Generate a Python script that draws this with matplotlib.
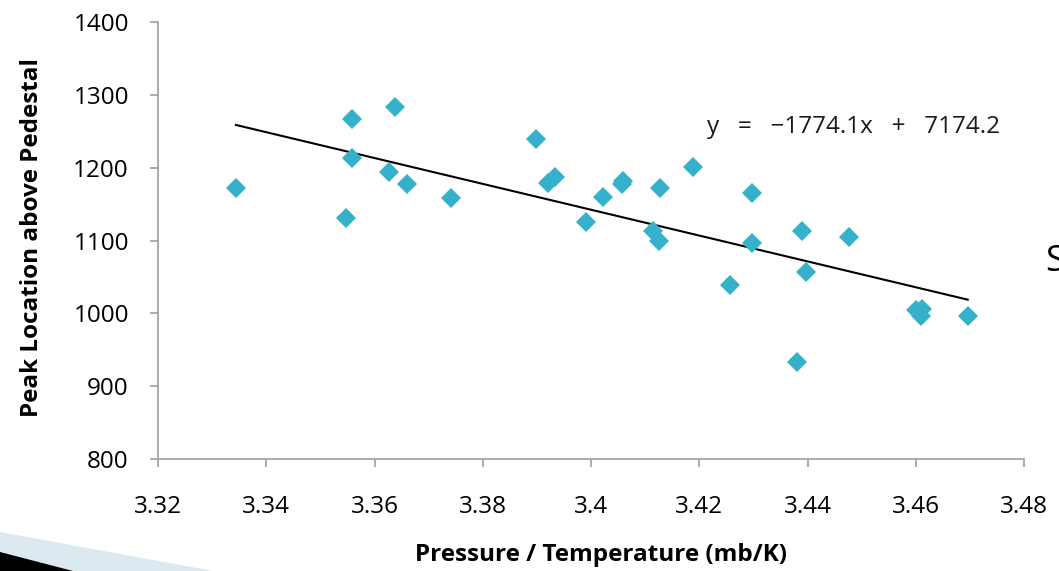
import matplotlib
matplotlib.use("Agg")
import matplotlib.pyplot as plt
from matplotlib.patches import Polygon
import numpy as np

plt.rcParams['font.family'] = ['Open Sans', 'DejaVu Sans']

# Data
pressure_temp = [3.3344, 3.3547, 3.3558, 3.3558, 3.3627, 3.3638, 3.3660, 3.3741,
                 3.3898, 3.3920, 3.3933, 3.3990, 3.4023, 3.4057, 3.4059, 3.4114,
                 3.4125, 3.4127, 3.4188, 3.4256, 3.4297, 3.4297, 3.4380, 3.4389,
                 3.4398, 3.4476, 3.4600, 3.4612, 3.4609, 3.4696]
peak_location = [1172, 1131, 1267, 1213, 1194, 1283, 1178, 1158,
                 1239, 1179, 1187, 1125, 1160, 1177, 1182, 1113,
                 1100, 1172, 1201, 1039, 1165, 1096, 933, 1113,
                 1057, 1105, 1005, 1006, 997, 996]
slope = -1774.1
intercept = 7174.2
x_ticks = [3.32, 3.34, 3.36, 3.38, 3.40, 3.42, 3.44, 3.46, 3.48]
x_tick_labels = ["3.32", "3.34", "3.36", "3.38", "3.4", "3.42", "3.44", "3.46", "3.48"]
y_ticks = [800, 900, 1000, 1100, 1200, 1300, 1400]

W, H = 1059, 571
fig = plt.figure(figsize=(W / 100, H / 100), dpi=100)
ax = fig.add_axes([158 / W, 1 - 459 / H, (1024 - 158) / W, (459 - 22) / H])

ax.plot(pressure_temp, peak_location, linestyle='none', marker='D',
        markersize=10, color='#35b1cb', markeredgewidth=0, zorder=3)

xs = np.array([min(pressure_temp), max(pressure_temp)])
ax.plot(xs, slope * xs + intercept, color='black', linewidth=1.5, zorder=2)

fig.text(707 / W, 1 - 127 / H, "y   =   \u22121774.1x   +   7174.2", fontsize=17.5,
         color='#1a1a1a', va='center', ha='left')

ax.set_xlim(3.32, 3.48)
ax.set_ylim(800, 1400)
ax.set_xticks(x_ticks)
ax.set_xticklabels(x_tick_labels)
ax.set_yticks(y_ticks)

for s in ['top', 'right']:
    ax.spines[s].set_visible(False)
for s in ['left', 'bottom']:
    ax.spines[s].set_color('#a6a6a6')
    ax.spines[s].set_linewidth(1.3)
ax.tick_params(axis='both', colors='#a6a6a6', length=6, width=1.3,
               labelcolor='black', labelsize=17.5)
ax.tick_params(axis='x', pad=20)
ax.tick_params(axis='y', pad=15)

fig.text(32 / W, 1 - 237 / H, "Peak Location above Pedestal", fontsize=17.5,
         fontweight='bold', rotation=90, ha='center', va='center')
fig.text(601 / W, 1 - 555 / H, "Pressure / Temperature (mb/K)", fontsize=17.5,
         fontweight='bold', ha='center', va='center')

# slide decorations
fig.patches.append(Polygon([[0, 1 - 532 / H], [213 / W, 0], [0, 0]], closed=True,
                           transform=fig.transFigure, facecolor='#dde9f0',
                           edgecolor='none', zorder=0))
fig.patches.append(Polygon([[0, 1 - 552 / H], [73 / W, 0], [0, 0]], closed=True,
                           transform=fig.transFigure, facecolor='black',
                           edgecolor='none', zorder=1))
fig.text(1045 / W, 1 - 262 / H, "S", fontsize=26, ha='left', va='center', color='black')

fig.savefig("out.png", dpi=100)
